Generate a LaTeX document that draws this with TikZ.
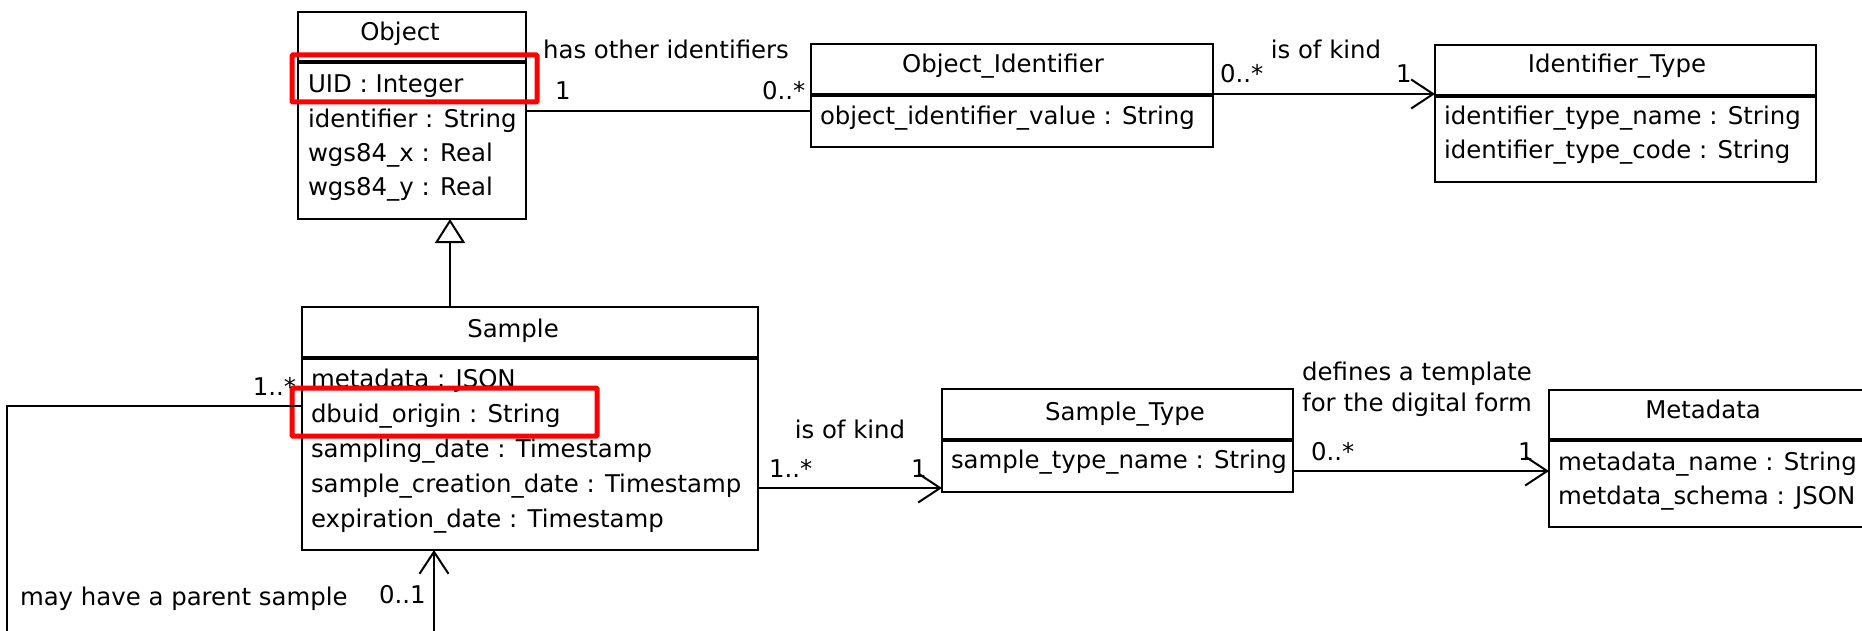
\documentclass[tikz,border=0pt]{standalone}
\usepackage{fontspec}
\setmainfont{DejaVu Sans}
\usetikzlibrary{arrows.meta}
\begin{document}
\begin{tikzpicture}[x=1pt,y=-1pt,
  txt/.style={font=\fontsize{24.4}{30}\selectfont, inner sep=0pt, outer sep=0pt},
  attr/.style={txt, anchor=base west},
  ttl/.style={txt, anchor=base},
  umlbox/.style={draw, line width=2pt, inner sep=0pt, outer sep=0pt, anchor=north west},
  sepline/.style={line width=4pt},
  assoc/.style={line width=2pt},
  nav/.style={assoc, -{Straight Barb[length=22pt,width=29pt,line width=2pt]}},
  gen/.style={assoc, -{Triangle[open,length=24pt,width=30pt,line width=2pt,fill=white]}},
  hilite/.style={draw=red, line width=5pt, rounded corners=1pt}
]
\useasboundingbox (0,0) rectangle (1862,631);

% class boxes
\node[umlbox, minimum width=228pt, minimum height=207pt] (obj) at (298,12) {};
\node[umlbox, minimum width=402pt, minimum height=103pt] (oi) at (811,44) {};
\node[umlbox, minimum width=381pt, minimum height=137pt] (it) at (1435,45) {};
\node[umlbox, minimum width=456pt, minimum height=243pt] (sample) at (302,307) {};
\node[umlbox, minimum width=351pt, minimum height=103pt] (st) at (942,389) {};
\node[umlbox, minimum width=330pt, minimum height=137pt] (meta) at (1549,390) {};

% compartment separators
\draw[sepline] ([yshift=-50pt]obj.north west) -- ([yshift=-50pt]obj.north east);
\draw[sepline] ([yshift=-51pt]oi.north west) -- ([yshift=-51pt]oi.north east);
\draw[sepline] ([yshift=-51pt]it.north west) -- ([yshift=-51pt]it.north east);
\draw[sepline] ([yshift=-51pt]sample.north west) -- ([yshift=-51pt]sample.north east);
\draw[sepline] ([yshift=-51pt]st.north west) -- ([yshift=-51pt]st.north east);
\draw[sepline] ([yshift=-50pt]meta.north west) -- ([yshift=-50pt]meta.north east);

% Object
\node[ttl] (objT) at (400,41) {Object};
\node[attr] (objA1) at (308,93) {UID : Integer};
\node[attr] (objA2) at (308,128) {identifier : String};
\node[attr] (objA3) at (308,162) {wgs84\_x : Real};
\node[attr] (objA4) at (308,196) {wgs84\_y : Real};

% Object_Identifier
\node[ttl] (oiT) at (1003,73) {Object\_Identifier};
\node[attr] (oiA1) at (820,125) {object\_identifier\_value : String};

% Identifier_Type
\node[ttl] (itT) at (1617,73) {Identifier\_Type};
\node[attr] (itA1) at (1444,125) {identifier\_type\_name : String};
\node[attr] (itA2) at (1444,159) {identifier\_type\_code : String};

% Sample
\node[ttl] (saT) at (513,337) {Sample};
\node[attr] (saA1) at (311,387) {metadata : JSON};
\node[attr] (saA2) at (311,422) {dbuid\_origin : String};
\node[attr] (saA3) at (311,457) {sampling\_date : Timestamp};
\node[attr] (saA4) at (311,492) {sample\_creation\_date : Timestamp};
\node[attr] (saA5) at (311,527) {expiration\_date : Timestamp};

% Sample_Type
\node[ttl] (stT) at (1125,420) {Sample\_Type};
\node[attr] (stA1) at (951,468) {sample\_type\_name : String};

% Metadata
\node[ttl] (meT) at (1703,418) {Metadata};
\node[attr] (meA1) at (1558,470) {metadata\_name : String};
\node[attr] (meA2) at (1558,504) {metdata\_schema : JSON};

% highlighted attributes
\draw[hilite] (292,55) rectangle (537,102);
\draw[hilite] (292,388) rectangle (597,436);

% generalization
\draw[gen] ([xshift=148pt]sample.north west) -- ([xshift=152pt]obj.south west);

% associations
\draw[assoc] ([yshift=-99pt]obj.north east) -- ([yshift=-67pt]oi.north west);
\node[ttl] (l1) at (666,59) {has other identifiers};
\node[attr] (m1a) at (555,100) {1};
\node[attr] (m1b) at (762,100) {0..*};

\draw[nav] ([yshift=-50pt]oi.north east) -- ([yshift=-49pt]it.north west);
\node[ttl] (l2) at (1326,59) {is of kind};
\node[attr] (m2a) at (1220,83) {0..*};
\node[attr] (m2b) at (1396,83) {1};

\draw[nav] ([yshift=-181pt]sample.north east) -- ([yshift=-99pt]st.north west);
\node[ttl] (l3) at (850,438) {is of kind};
\node[attr] (m3a) at (769,477) {1..*};
\node[attr] (m3b) at (911,477) {1};

\draw[nav] ([yshift=-82pt]st.north east) -- ([yshift=-81pt]meta.north west);
\node[ttl] (l4a) at (1417,380) {defines a template};
\node[ttl] (l4b) at (1417,411) {for the digital form};
\node[attr] (m4a) at (1311,460) {0..*};
\node[attr] (m4b) at (1518,460) {1};

% parent sample (self association)
\coordinate (loop) at (7,660);
\draw[nav] ([yshift=-99pt]sample.north west) -| (loop) -| ([xshift=132pt]sample.south west);
\node[txt, anchor=base east] (m5a) at (296,395) {1..*};
\node[attr] (l5) at (20,605) {may have a parent sample};
\node[attr] (m5b) at (379,603) {0..1};
\end{tikzpicture}
\end{document}
